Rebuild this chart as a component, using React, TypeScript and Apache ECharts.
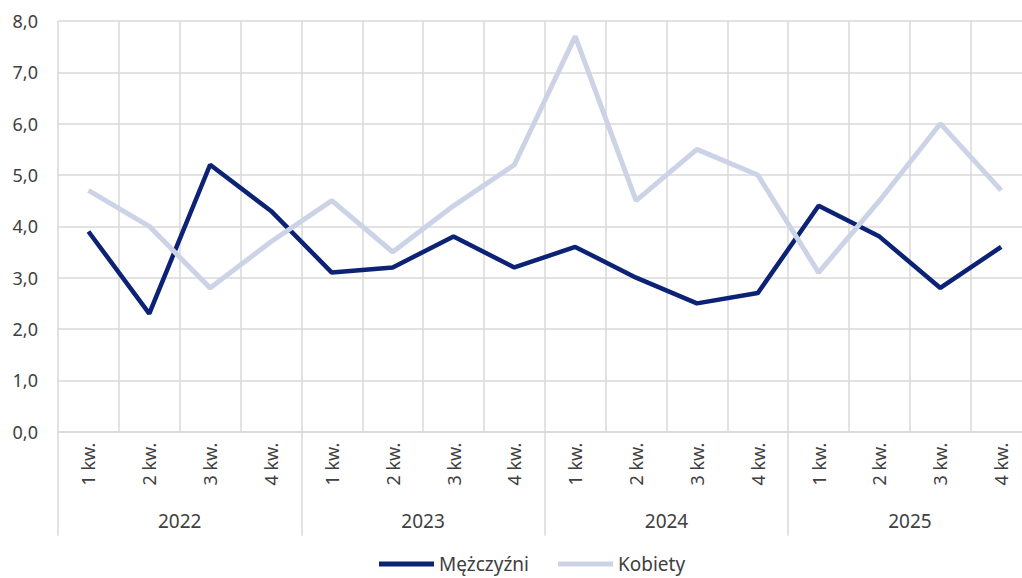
import React, { useEffect, useRef } from "react";
import * as echarts from "echarts";

const quarters = [
  "1 kw.", "2 kw.", "3 kw.", "4 kw.",
  "1 kw.", "2 kw.", "3 kw.", "4 kw.",
  "1 kw.", "2 kw.", "3 kw.", "4 kw.",
  "1 kw.", "2 kw.", "3 kw.", "4 kw.",
];
const years = ["2022", "2023", "2024", "2025"];
const men = [3.9, 2.3, 5.2, 4.3, 3.1, 3.2, 3.8, 3.2, 3.6, 3.0, 2.5, 2.7, 4.4, 3.8, 2.8, 3.6];
const women = [4.7, 4.0, 2.8, 3.7, 4.5, 3.5, 4.4, 5.2, 7.7, 4.5, 5.5, 5.0, 3.1, 4.5, 6.0, 4.7];

const FONT = "'Noto Sans', sans-serif";
const TXT = "#404040";
const GRID = "#d9d9d9";
const DARK = "#0b2275";
const LIGHT = "#ccd3e7";

export default function App() {
  const ref = useRef<HTMLDivElement>(null);
  useEffect(() => {
    if (!ref.current) return;
    const chart = echarts.init(ref.current, null, { renderer: "svg" });
    chart.setOption({
      animation: false,
      textStyle: { fontFamily: FONT },
      grid: { left: 58, top: 21, width: 973.6, height: 410.7, containLabel: false },
      legend: {
        top: 549,
        left: 374,
        itemWidth: 55,
        itemHeight: 5,
        itemGap: 29,
        icon: "rect",
        textStyle: { fontFamily: FONT, fontSize: 19, color: TXT, lineHeight: 20 },
        data: ["Mężczyźni", "Kobiety"],
      },
      xAxis: [
        {
          type: "category",
          data: quarters,
          position: "bottom",
          axisLine: { show: true, lineStyle: { color: GRID, width: 1.5 } },
          axisTick: { show: false },
          splitLine: { show: true, lineStyle: { color: GRID, width: 1.5 } },
          axisLabel: {
            rotate: 90,
            margin: 11,
            interval: 0,
            fontFamily: FONT,
            fontSize: 18,
            color: TXT,
          },
        },
        {
          type: "category",
          data: years,
          position: "bottom",
          axisLine: { show: false },
          axisTick: { show: true, length: 104, lineStyle: { color: GRID, width: 1.5 } },
          splitLine: { show: false },
          axisLabel: {
            margin: 80,
            interval: 0,
            fontFamily: FONT,
            fontSize: 19,
            color: TXT,
          },
        },
      ],
      yAxis: {
        type: "value",
        min: 0,
        max: 8,
        interval: 1,
        axisLine: { show: false },
        axisTick: { show: false },
        splitLine: { show: true, lineStyle: { color: GRID, width: 1.5 } },
        axisLabel: {
          margin: 20,
          fontFamily: FONT,
          fontSize: 18,
          color: TXT,
          formatter: (v: number) => v.toFixed(1).replace(".", ","),
        },
      },
      series: [
        {
          name: "Mężczyźni",
          type: "line",
          data: men,
          xAxisIndex: 0,
          symbol: "none",
          lineStyle: { color: DARK, width: 4.5 },
          itemStyle: { color: DARK },
        },
        {
          name: "Kobiety",
          type: "line",
          data: women,
          xAxisIndex: 0,
          symbol: "none",
          lineStyle: { color: LIGHT, width: 5 },
          itemStyle: { color: LIGHT },
        },
      ],
    });
    return () => chart.dispose();
  }, []);
  return (
    <div style={{ position: "absolute", left: 0, top: 0, width: 1022, height: 578, overflow: "hidden", background: "#fff" }}>
      <div ref={ref} style={{ width: 1040, height: 578 }} />
    </div>
  );
}
